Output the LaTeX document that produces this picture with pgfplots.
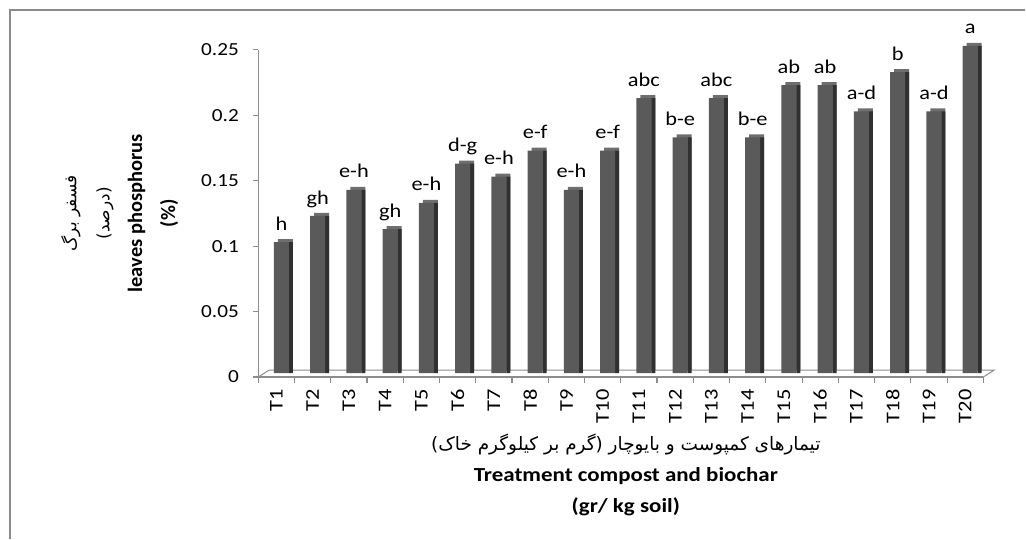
\documentclass[border=0pt]{standalone}
\usepackage{pgfplots}
\pgfplotsset{compat=1.18}
\usepackage{pgfplotstable}
\usepackage{fontspec}
\setmainfont{Carlito}[FakeStretch=1.15]
\newfontfamily\plainfont{Carlito}
\newfontfamily\persian[Script=Arabic]{DejaVu Sans}
\TeXXeTstate=1
\definecolor{barfront}{HTML}{5A5A5A}
\definecolor{barside}{HTML}{303030}
\definecolor{bartop}{HTML}{6E6E6E}
\definecolor{axgray}{HTML}{8C8C8C}

\pgfplotstableread{
x y lab
0 0.10 h
1 0.12 gh
2 0.14 e-h
3 0.11 gh
4 0.13 e-h
5 0.16 d-g
6 0.15 e-h
7 0.17 e-f
8 0.14 e-h
9 0.17 e-f
10 0.21 abc
11 0.18 b-e
12 0.21 abc
13 0.18 b-e
14 0.22 ab
15 0.22 ab
16 0.20 a-d
17 0.23 b
18 0.20 a-d
19 0.25 a
}\data

\begin{document}
\begin{tikzpicture}
\begin{axis}[
  scale only axis, width=727pt, height=328pt,
  xmin=-0.5, xmax=19.5, ymin=0, ymax=0.25,
  clip=false,
  axis x line*=bottom, axis y line*=left,
  axis line style={axgray, line width=1.2pt},
  tick align=outside,
  major tick length=5pt, minor tick length=6pt,
  y tick style={axgray, line width=1.2pt},
  major x tick style={draw=none},
  minor x tick style={axgray, line width=1.2pt},
  ytick={0,0.05,0.1,0.15,0.2,0.25},
  yticklabels={0,0.05,0.1,0.15,0.2,0.25},
  yticklabel style={font=\fontsize{18.5}{20}\selectfont, xshift=-11pt},
  xtick={0,...,19},
  minor xtick={-0.5,0.5,...,19.5},
  xticklabels={T1,T2,T3,T4,T5,T6,T7,T8,T9,T10,T11,T12,T13,T14,T15,T16,T17,T18,T19,T20},
  xticklabel style={rotate=90, anchor=east, font=\fontsize{19.5}{22}\selectfont, xshift=-4pt},
  xlabel={{\persian\fontsize{18.5}{20}\selectfont\beginR تیمارهای کمپوست و بایوچار (گرم بر کیلوگرم خاک)\endR}\\\textbf{Treatment compost and biochar}\\\textbf{(gr/ kg soil)}},
  xlabel style={at={(axis description cs:0.5,0)}, anchor=center, yshift=-98pt, xshift=5pt, align=center, font=\fontsize{20}{31}\selectfont},
  ylabel={{\persian\fontsize{17}{19}\selectfont\beginR فسفر برگ\endR}\\{\persian\fontsize{17}{19}\selectfont\beginR (درصد)\endR}\\\textbf{leaves phosphorus}\\\textbf{(\%)}},
  ylabel style={at={(axis description cs:0,0.5)}, anchor=center, yshift=139pt, align=center, font=\plainfont\fontsize{20.5}{33}\selectfont},
]
\coordinate (O) at (rel axis cs:0,0);
\draw[axgray, line width=1pt] (rel axis cs:0,0) -- ++(11pt,7pt) -- ([shift={(11pt,7pt)}]rel axis cs:1,0) -- (rel axis cs:1,0);
\addplot[ybar, bar width=15pt, bar shift=9pt, yshift=7pt, fill=bartop, draw=none] table[x=x,y=y]{\data};
\addplot[ybar, bar width=4pt, bar shift=14.5pt, yshift=4pt, fill=barside, draw=none] table[x=x,y=y]{\data};
\addplot[ybar, bar width=15pt, bar shift=5pt, yshift=4pt, fill=barfront, draw=none] table[x=x,y=y]{\data};
\addplot[draw=none, mark=none, nodes near coords, point meta=explicit symbolic,
  every node near coord/.style={anchor=base, yshift=16pt, xshift=5pt, font=\fontsize{19.5}{21}\selectfont, text=black}]
  table[x=x,y=y,meta=lab]{\data};
\end{axis}
\pgfresetboundingbox
\path ([shift={(-259pt,-160pt)}]O) rectangle ([shift={(767pt,378pt)}]O);
\draw[axgray, line width=1.5pt] ([shift={(-249pt,-162pt)}]O) -- ([shift={(-249pt,368pt)}]O) -- ([shift={(769pt,368pt)}]O);
\end{tikzpicture}
\end{document}
